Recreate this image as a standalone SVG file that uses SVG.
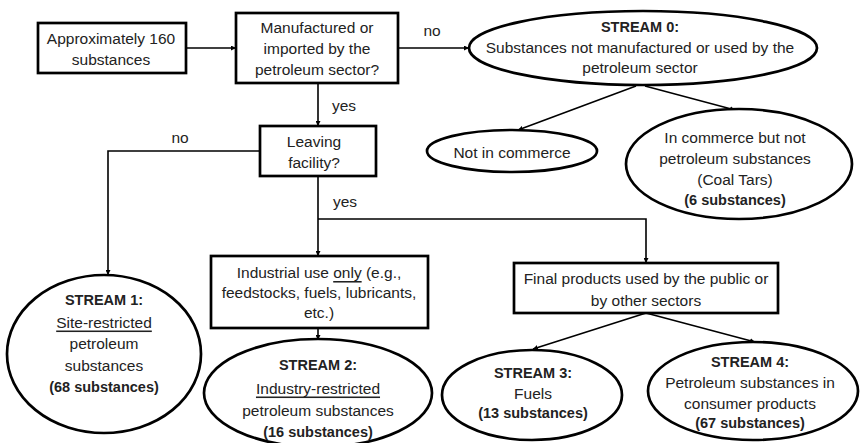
<svg xmlns="http://www.w3.org/2000/svg" width="860" height="443" viewBox="0 0 860 443">
<defs>
<marker id="ah" viewBox="0 0 10 10" refX="10" refY="5" markerWidth="5" markerHeight="5" orient="auto" markerUnits="userSpaceOnUse"><path d="M0,0 L10,5 L0,10 z" fill="#000"/></marker>
<style>
.b{fill:#fff;stroke:#000;stroke-width:2.7}
.c{fill:none;stroke:#000;stroke-width:1.6}
text{font-family:"Liberation Sans",Arial,sans-serif;font-size:15.5px;fill:#222;text-anchor:middle;dominant-baseline:central}
.bd{font-weight:bold;font-size:14.5px}
.u{text-decoration:underline}
</style>
</defs>
<rect width="860" height="443" fill="#fff"/>
<g id="connectors">
<line class="c" x1="186" y1="48" x2="236" y2="48" marker-end="url(#ah)"/>
<line class="c" x1="398" y1="48" x2="469" y2="48" marker-end="url(#ah)"/>
<line class="c" x1="318" y1="83" x2="318" y2="126" marker-end="url(#ah)"/>
<polyline class="c" points="260,151 108,151 108,275" marker-end="url(#ah)"/>
<line class="c" x1="318" y1="176" x2="318" y2="256" marker-end="url(#ah)"/>
<polyline class="c" points="318,219 646,219 646,263" marker-end="url(#ah)"/>
<line class="c" x1="318" y1="328" x2="318" y2="340" marker-end="url(#ah)"/>
<line class="c" x1="636" y1="86" x2="518" y2="130" marker-end="url(#ah)"/>
<line class="c" x1="645" y1="86" x2="735" y2="110" marker-end="url(#ah)"/>
<line class="c" x1="646" y1="313" x2="533" y2="349" marker-end="url(#ah)"/>
<line class="c" x1="646" y1="313" x2="755" y2="342" marker-end="url(#ah)"/>
<text x="432" y="30">no</text>
<text x="344" y="105">yes</text>
<text x="180" y="137">no</text>
<text x="345" y="201">yes</text>
</g>
<g id="start">
<rect class="b" x="38" y="23" width="148" height="50"/>
<text x="111" y="38">Approximately 160</text>
<text x="111" y="59">substances</text>
</g>
<g id="q1">
<rect class="b" x="236" y="13" width="162" height="70"/>
<text x="317" y="27">Manufactured or</text>
<text x="317" y="48">imported by the</text>
<text x="317" y="69">petroleum sector?</text>
</g>
<g id="stream0">
<ellipse class="b" cx="643" cy="48" rx="174" ry="37"/>
<text class="bd" x="640" y="27">STREAM 0:</text>
<text x="640" y="47">Substances not manufactured or used by the</text>
<text x="640" y="67">petroleum sector</text>
</g>
<g id="notcommerce">
<ellipse class="b" cx="512" cy="151" rx="85" ry="21"/>
<text x="512" y="152">Not in commerce</text>
</g>
<g id="coaltars">
<ellipse class="b" cx="739" cy="164" rx="113" ry="55"/>
<text x="735" y="137">In commerce but not</text>
<text x="735" y="158">petroleum substances</text>
<text x="735" y="179">(Coal Tars)</text>
<text class="bd" x="735" y="200">(6 substances)</text>
</g>
<g id="q2">
<rect class="b" x="260" y="126" width="116" height="50"/>
<text x="314" y="141">Leaving</text>
<text x="314" y="162">facility?</text>
</g>
<g id="stream1">
<ellipse class="b" cx="104" cy="354" rx="97" ry="79"/>
<text class="bd" x="104" y="300">STREAM 1:</text>
<text class="u" x="104" y="322">Site-restricted</text>
<text x="104" y="343">petroleum</text>
<text x="104" y="365">substances</text>
<text class="bd" x="104" y="387">(68 substances)</text>
</g>
<g id="industrial">
<rect class="b" x="211" y="256" width="217" height="72"/>
<text x="319" y="272">Industrial use <tspan class="u">only</tspan> (e.g.,</text>
<text x="319" y="292">feedstocks, fuels, lubricants,</text>
<text x="319" y="312">etc.)</text>
</g>
<g id="stream2">
<ellipse class="b" cx="318" cy="393" rx="114" ry="54"/>
<text class="bd" x="318" y="365">STREAM 2:</text>
<text class="u" x="318" y="388">Industry-restricted</text>
<text x="318" y="410">petroleum substances</text>
<text class="bd" x="318" y="432">(16 substances)</text>
</g>
<g id="final">
<rect class="b" x="514" y="263" width="264" height="50"/>
<text x="646" y="278">Final products used by the public or</text>
<text x="646" y="300">by other sectors</text>
</g>
<g id="stream3">
<ellipse class="b" cx="532" cy="395" rx="90" ry="45"/>
<text class="bd" x="533" y="373">STREAM 3:</text>
<text x="533" y="393">Fuels</text>
<text class="bd" x="533" y="413">(13 substances)</text>
</g>
<g id="stream4">
<ellipse class="b" cx="753" cy="391" rx="105" ry="49"/>
<text class="bd" x="750" y="362">STREAM 4:</text>
<text x="750" y="382">Petroleum substances in</text>
<text x="750" y="403">consumer products</text>
<text class="bd" x="750" y="423">(67 substances)</text>
</g>
</svg>
